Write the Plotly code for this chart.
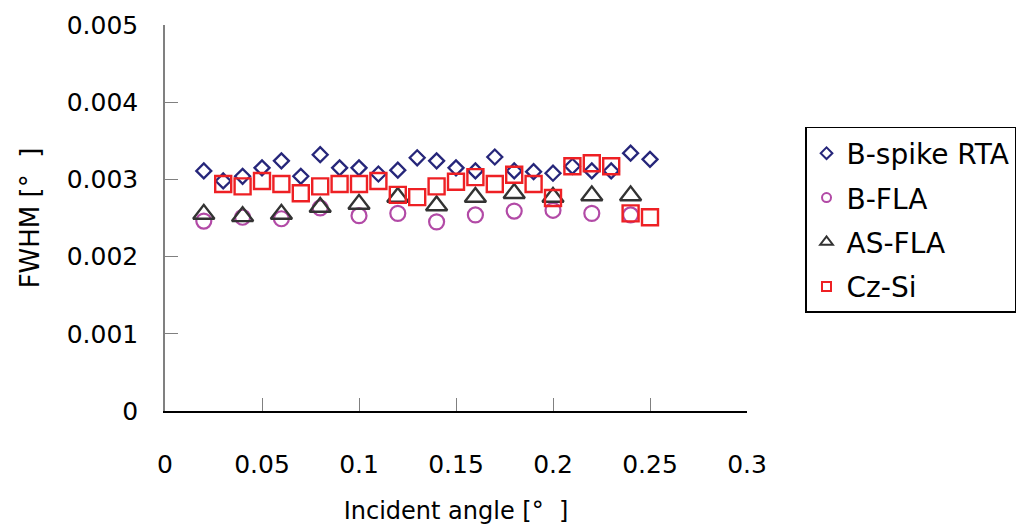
import plotly.graph_objects as go

# Data
x_rta = [0.02, 0.03, 0.04, 0.05, 0.06, 0.07, 0.08, 0.09, 0.10, 0.11, 0.12, 0.13,
         0.14, 0.15, 0.16, 0.17, 0.18, 0.19, 0.20, 0.21, 0.22, 0.23, 0.24, 0.25]
y_rta = [0.00311, 0.00298, 0.00304, 0.00315, 0.00324, 0.00304, 0.00332, 0.00315,
         0.00315, 0.00307, 0.00312, 0.00328, 0.00324, 0.00315, 0.00311, 0.00329,
         0.00311, 0.00310, 0.00308, 0.00317, 0.00311, 0.00311, 0.00334, 0.00326]

x_bfla = [0.02, 0.04, 0.06, 0.08, 0.10, 0.12, 0.14, 0.16, 0.18, 0.20, 0.22, 0.24]
y_bfla = [0.00246, 0.00251, 0.00249, 0.00263, 0.00253, 0.00256, 0.00245, 0.00254,
          0.00259, 0.00260, 0.00256, 0.00254]

x_asfla = [0.02, 0.04, 0.06, 0.08, 0.10, 0.12, 0.14, 0.16, 0.18, 0.20, 0.22, 0.24]
y_asfla = [0.00255, 0.00252, 0.00255, 0.00264, 0.00268, 0.00277, 0.00266, 0.00277,
           0.00282, 0.00277, 0.00279, 0.00279]

x_czsi = [0.03, 0.04, 0.05, 0.06, 0.07, 0.08, 0.09, 0.10, 0.11, 0.12, 0.13, 0.14,
          0.15, 0.16, 0.17, 0.18, 0.19, 0.20, 0.21, 0.22, 0.23, 0.24, 0.25]
y_czsi = [0.00294, 0.00291, 0.00298, 0.00294, 0.00282, 0.00291, 0.00294, 0.00294,
          0.00298, 0.00280, 0.00277, 0.00291, 0.00297, 0.00303, 0.00294, 0.00306,
          0.00294, 0.00276, 0.00317, 0.00321, 0.00317, 0.00256, 0.00251]

series_names = ["B-spike RTA", "B-FLA", "AS-FLA", "Cz-Si"]
x_ticks = [0, 0.05, 0.1, 0.15, 0.2, 0.25, 0.3]
x_tick_labels = ["0", "0.05", "0.1", "0.15", "0.2", "0.25", "0.3"]
y_ticks = [0, 0.001, 0.002, 0.003, 0.004, 0.005]
y_tick_labels = ["0", "0.001", "0.002", "0.003", "0.004", "0.005"]

styles = [
    dict(symbol="diamond-open", color="#26267A", size=11.5, lw=2.3),
    dict(symbol="circle-open", color="#B24AA6", size=15, lw=2.2),
    dict(symbol="triangle-up-open", color="#333333", size=18.5, lw=2.4),
    dict(symbol="square-open", color="#EE2024", size=16, lw=2.4),
]
xs = [x_rta, x_bfla, x_asfla, x_czsi]
ys = [y_rta, y_bfla, y_asfla, y_czsi]

FONT = "DejaVu Sans"
fig = go.Figure()
for name, x, y, st in zip(series_names, xs, ys, styles):
    fig.add_trace(go.Scatter(
        x=x, y=y, mode="markers", name=name, showlegend=False,
        marker=dict(symbol=st["symbol"], size=st["size"], color=st["color"],
                    line=dict(width=st["lw"], color=st["color"])),
    ))
# legend-only entries with small markers
for i, (name, st) in enumerate(zip(series_names, styles)):
    fig.add_trace(go.Scatter(
        x=[None], y=[None], mode="markers", name=name, legendgroup=f"g{i}",
        marker=dict(symbol=st["symbol"], size=9 if i != 2 else 11, color=st["color"],
                    line=dict(width=2, color=st["color"])),
    ))

# page body has an 8px margin; size the figure so the plot lands where it should
fig.update_layout(
    width=1027, height=520,
    margin=dict(l=157, r=288, t=17, b=117, autoexpand=False),
    paper_bgcolor="white", plot_bgcolor="white",
    font=dict(family=FONT, size=24, color="black"),
    showlegend=True,
    legend=dict(
        x=1.0997, y=0.7358, xanchor="left", yanchor="top",
        bordercolor="black", borderwidth=1.5, bgcolor="white",
        font=dict(family=FONT, size=28, color="black"),
        tracegroupgap=5, traceorder="grouped",
        itemwidth=30,
    ),
    xaxis=dict(
        range=[0, 0.3], tickvals=x_ticks, ticktext=x_tick_labels,
        showgrid=False, zeroline=False, automargin=False,
        showline=True, linecolor="black", linewidth=1.5,
        ticks="inside", ticklen=13, tickcolor="#808080", tickwidth=1.2,
        ticklabelstandoff=30,
        tickfont=dict(family=FONT, size=25),
        title=dict(text="Incident angle [°  ]", standoff=24,
                   font=dict(family=FONT, size=24)),
    ),
    yaxis=dict(
        range=[0, 0.005], tickvals=y_ticks, ticktext=y_tick_labels,
        showgrid=False, zeroline=False, automargin=False,
        showline=True, linecolor="#808080", linewidth=1.5,
        ticks="inside", ticklen=13, tickcolor="#808080", tickwidth=1.2,
        ticklabelstandoff=20,
        tickfont=dict(family=FONT, size=25),
        title=dict(text="FWHM [°  ]", standoff=20,
                   font=dict(family=FONT, size=26)),
    ),
)

fig.write_html("out.html")
